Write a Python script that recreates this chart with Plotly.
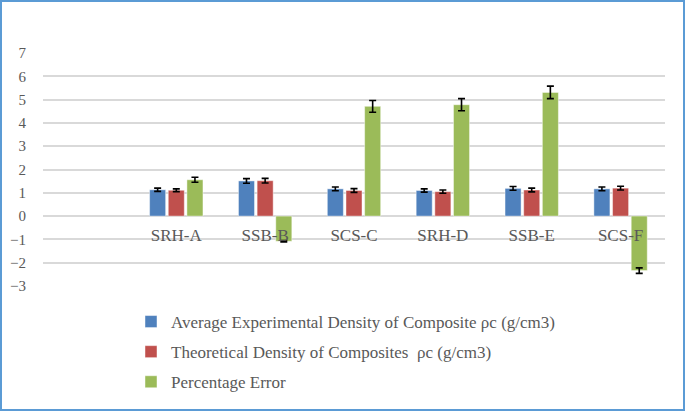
import plotly.graph_objects as go

categories = ["SRH-A", "SSB-B", "SCS-C", "SRH-D", "SSB-E", "SCS-F"]
series_names = [
    "Average Experimental Density of Composite \u03c1c (g/cm3)",
    "Theoretical Density of Composites  \u03c1c (g/cm3)",
    "Percentage Error",
]
exp_density = [1.13, 1.51, 1.17, 1.10, 1.19, 1.17]
theo_density = [1.11, 1.52, 1.10, 1.05, 1.12, 1.20]
pct_error = [1.56, -1.08, 4.71, 4.78, 5.31, -2.34]
exp_err = [0.07, 0.10, 0.08, 0.07, 0.08, 0.08]
theo_err = [0.06, 0.10, 0.08, 0.07, 0.08, 0.08]
pct_err = [0.11, 0.03, 0.25, 0.26, 0.27, 0.12]
colors = ["#4F81BD", "#C0504D", "#9BBB59"]

fig = go.Figure()
for i, (vals, errs) in enumerate([(exp_density, exp_err), (theo_density, theo_err), (pct_error, pct_err)]):
    fig.add_trace(go.Bar(
        x=categories, y=vals, name=series_names[i], legendgroup=f"g{i}",
        marker=dict(color=colors[i], line=dict(color="rgba(255,255,255,0.45)", width=1)),
        error_y=dict(type="data", array=errs, color="black", thickness=1.6, width=3.5),
    ))

serif = "Liberation Serif, Times New Roman, serif"
fig.update_layout(
    width=685, height=411,
    margin=dict(l=43, r=20, t=53, b=125, autoexpand=False),
    paper_bgcolor="white", plot_bgcolor="white",
    barmode="group", bargap=0.37, bargroupgap=0.14,
    font=dict(family=serif, color="#595959"),
    showlegend=True,
    legend=dict(
        orientation="v",
        x=(131 - 43) / 622, xanchor="left", y=(286 - 304) / 233, yanchor="top",
        font=dict(family=serif, size=17, color="#595959"),
        traceorder="grouped", tracegroupgap=5,
        bgcolor="rgba(0,0,0,0)",
    ),
    xaxis=dict(
        range=[-1.5, 5.5], anchor="free", position=0.3,
        showline=False, showgrid=False, ticks="",
        tickfont=dict(family=serif, size=17, color="#595959"),
        ticklabelstandoff=7, tickangle=0,
    ),
    yaxis=dict(
        range=[-3, 7], dtick=1, showgrid=True, gridcolor="#D9D9D9", gridwidth=1.5,
        zeroline=True, zerolinecolor="#D9D9D9", zerolinewidth=1.5,
        showline=False, ticks="",
        tickfont=dict(family=serif, size=15, color="#595959"),
        ticklabelstandoff=16,
    ),
    shapes=[dict(type="rect", xref="paper", yref="paper",
                 x0=-42 / 622, x1=1 + 19 / 622, y0=-124 / 233, y1=1 + 52 / 233,
                 line=dict(color="#5B9BD5", width=2), fillcolor="rgba(0,0,0,0)")],
)

fig.write_html("out.html", config={"displayModeBar": False})

# remove the default 8px page margin so the figure sits at the window origin
with open("out.html", "r", encoding="utf-8") as f:
    html = f.read()
html = html.replace("<body>", '<body style="margin:0;padding:0;overflow:hidden;">', 1)
with open("out.html", "w", encoding="utf-8") as f:
    f.write(html)
